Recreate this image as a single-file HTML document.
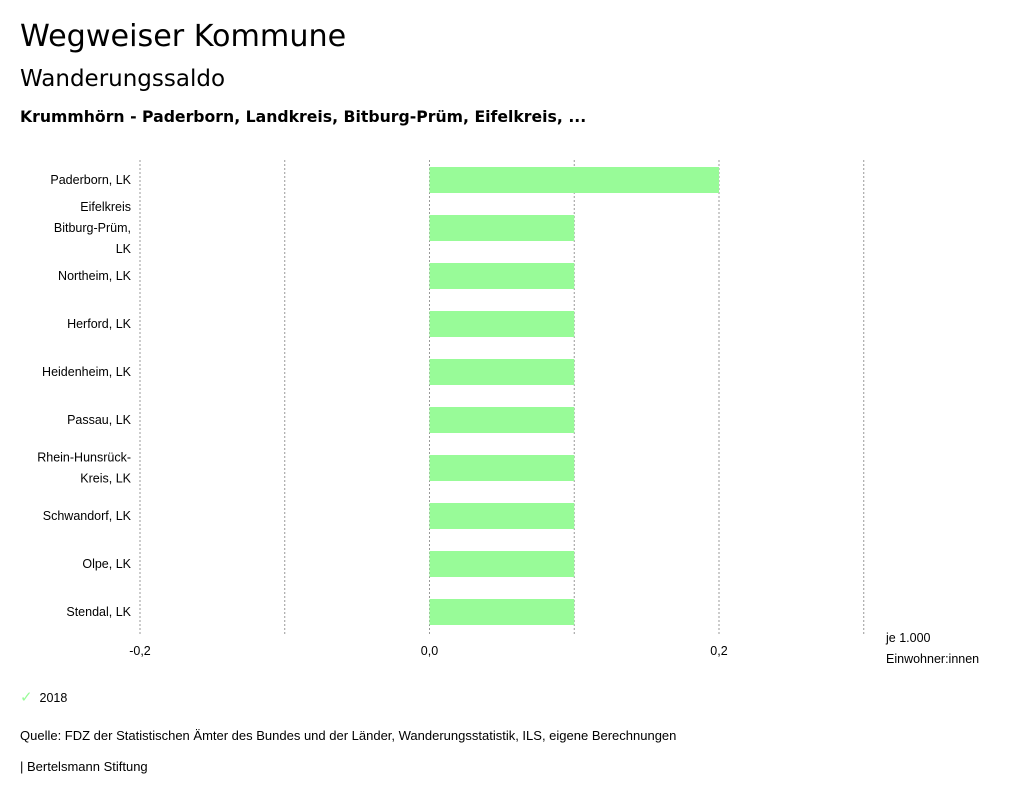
<!DOCTYPE html>
<html><head><meta charset="utf-8"><style>
body{margin:0;width:1024px;height:799px;background:#fff;font-family:"Liberation Sans",sans-serif;color:#000;position:relative;overflow:hidden}
.t{position:absolute;white-space:nowrap}
</style></head><body>
<div class="t" style="left:20px;top:19px;font-size:30.2px;font-family:'DejaVu Sans',sans-serif">Wegweiser Kommune</div>
<div class="t" style="left:20px;top:66px;font-size:23px;font-family:'DejaVu Sans',sans-serif">Wanderungssaldo</div>
<div class="t" style="left:20px;top:107px;font-size:15.7px;font-weight:bold;font-family:'DejaVu Sans',sans-serif">Krummhörn - Paderborn, Landkreis, Bitburg-Prüm, Eifelkreis, ...</div>
<svg id="chart" width="1024" height="799" style="position:absolute;left:0;top:0" font-family="Liberation Sans, sans-serif" font-size="12"></svg>
<div class="t" style="left:20px;top:688px;font-size:12.5px"><span style="color:#98fb98;font-size:15px">✓</span>&nbsp;&nbsp;2018</div>
<div class="t" style="left:20px;top:728px;font-size:13px">Quelle: FDZ der Statistischen Ämter des Bundes und der Länder, Wanderungsstatistik, ILS, eigene Berechnungen</div>
<div class="t" style="left:20px;top:759px;font-size:13px">| Bertelsmann Stiftung</div>
<script>
const categories=[["Paderborn, LK"],["Eifelkreis","Bitburg-Prüm,","LK"],["Northeim, LK"],["Herford, LK"],["Heidenheim, LK"],["Passau, LK"],["Rhein-Hunsrück-","Kreis, LK"],["Schwandorf, LK"],["Olpe, LK"],["Stendal, LK"]];
const values2018=[0.2,0.1,0.1,0.1,0.1,0.1,0.1,0.1,0.1,0.1];
const gridTicks=[-0.2,-0.1,0,0.1,0.2,0.3];
const tickLabels=[[-0.2,"-0,2"],[0,"0,0"],[0.2,"0,2"]];
const svg=document.getElementById('chart');const NS="http://www.w3.org/2000/svg";
const x=v=>429.5+(v)*1447.5;
const top0=156,band=48,barH=26;
const y=i=>top0+i*band;
function mk(t,a){const e=document.createElementNS(NS,t);for(const k in a)e.setAttribute(k,a[k]);svg.appendChild(e);return e;}
gridTicks.forEach(v=>{const l=mk('line',{x1:x(v),x2:x(v),y1:160,y2:636,stroke:'#999','stroke-dasharray':'2,2','stroke-width':1});

});
values2018.forEach((v,i)=>{const r=mk('rect',{x:Math.min(x(0),x(v)),y:y(i)+(band-barH)/2,width:Math.abs(x(v)-x(0)),height:barH,fill:'#98fb98'});

});
categories.forEach((c,i)=>{const cy=y(i)+band/2;c.forEach((ln,j)=>{const t=mk('text',{x:131,y:cy+(j-(c.length-1)/2)*21+4,'text-anchor':'end','font-size':12.5});t.textContent=ln;

});});
tickLabels.forEach(([v,s])=>{const t=mk('text',{x:x(v),y:655,'text-anchor':'middle','font-size':12.5});t.textContent=s;

});
[["je 1.000",642],["Einwohner:innen",663]].forEach(([s,yy])=>{const t=mk('text',{x:886,y:yy,'font-size':12.5});t.textContent=s;

});
</script>
</body></html>
